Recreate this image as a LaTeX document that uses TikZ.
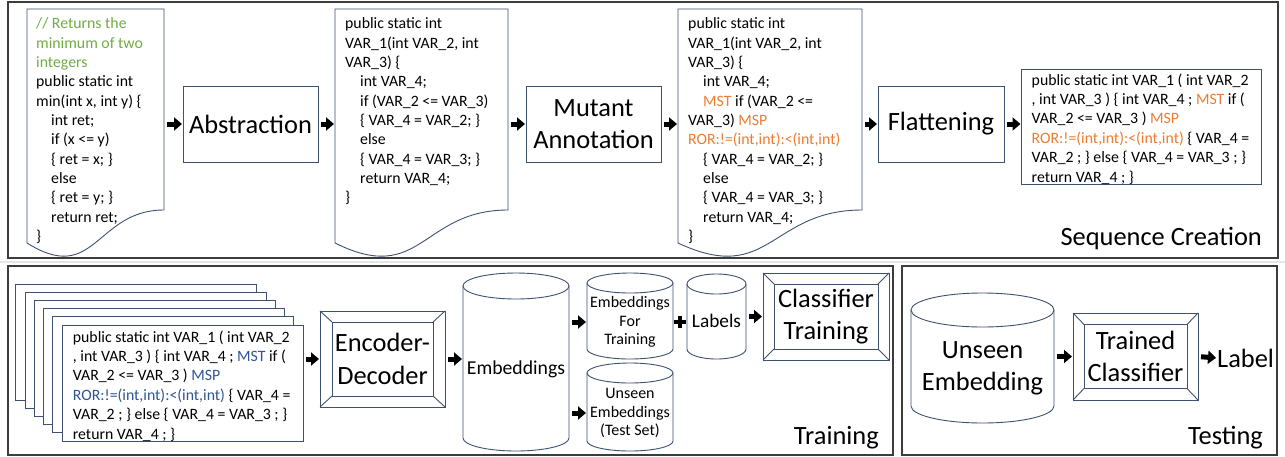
\documentclass[tikz,border=0pt]{standalone}
\usepackage{fontspec}
\setmainfont{Carlito}
\usetikzlibrary{arrows.meta,calc}
\definecolor{bd}{RGB}{62,82,112}
\definecolor{cgreen}{RGB}{112,173,71}
\definecolor{corange}{RGB}{237,125,49}
\definecolor{cblue}{RGB}{47,85,151}
\definecolor{frm}{RGB}{60,60,60}
\newcommand\ind{\hspace*{15pt}}
\newcommand\codefont{\fontsize{15.8}{19.35}\selectfont}
\newcommand\bigfont{\fontsize{26.4}{32.5}\selectfont}
\newcommand\secfont{\fontsize{26.4}{32}\selectfont}
\newcommand\cylfont{\fontsize{16}{18.7}\selectfont}
\newcommand\og[1]{\textcolor{corange}{#1}}
\newcommand\bl[1]{\textcolor{cblue}{#1}}
\newcommand\docshape[3]{%
  \node[inner sep=0pt, outer sep=0pt, minimum width={(#3-#2)*1pt}, minimum height=201pt, anchor=north west] (#1) at (#2,9) {};
  \draw[bdr] (#1.north west) -- (#1.north east) -- (#1.south east)
    .. controls (#1.south) and ($(#1.south)+(0,76)$) .. ($(#1.south west)+(0,33)$) -- cycle;
}
\newcommand\cyl[6]{%
  \pgfmathsetmacro\cx{(#2+#3)/2}\pgfmathsetmacro\rx{(#3-#2)/2}
  \node[inner sep=0pt, outer sep=0pt, minimum width={(#3-#2)*1pt}, minimum height={(#5-#4)*1pt}] (#1) at (\cx,{(#4+#5)/2}) {};
  \draw[bdr] (#2,#4+#6) -- (#2,#5-#6) arc[start angle=180,end angle=360,x radius=\rx pt,y radius=#6pt] -- (#3,#4+#6);
  \draw[bdr] (\cx,#4+#6) ellipse[x radius=\rx pt, y radius=#6pt];
}
\newcommand\fbx[8]{%
  \node[bdr, minimum width=#4pt, minimum height=#5pt, inner sep=0pt, outer sep=0pt] (#1) at (#2,#3) {};
  \node[bdr, minimum width=#6pt, minimum height=#7pt, inner sep=0pt, outer sep=0pt, align=center, font=\bigfont] (#1i) at (#2,#3) {#8};
  \foreach \a in {north west,north east,south west,south east} \draw[bdr] (#1.\a) -- (#1i.\a);
}
\begin{document}
\begin{tikzpicture}[x=1pt,y=-1pt,
  bdr/.style={draw=bd, line width=0.9pt},
  blk/.style={line width=5pt, -{Triangle[length=8pt,width=13pt]}, shorten <=3pt, shorten >=1pt},
  code/.style={anchor=north west, inner sep=0pt, align=left, font=\codefont},
  bigbox/.style={bdr, inner sep=0pt, outer sep=0pt, align=center, font=\bigfont},
  frame/.style={draw=frm, line width=1.2pt, inner sep=0pt, outer sep=0pt, anchor=north west},
  sec/.style={font=\secfont, inner sep=0pt, anchor=east},
  ctext/.style={font=\cylfont, align=center, inner sep=0pt}]
\useasboundingbox (0,0) rectangle (1285,456);
\fill[white] (0,0) rectangle (1285,456);
% section frames
\node[frame, minimum width=1270pt, minimum height=256pt] (seq) at (8,2) {};
\draw[gray!20, line width=2pt] (0,261.5) -- (1285,261.5);
\node[frame, minimum width=885pt, minimum height=189pt] (train) at (8,266) {};
\node[frame, minimum width=375pt, minimum height=189pt] (test) at (902,266) {};
\node[sec] (seql) at (1262,238.5) {Sequence Creation};
\node[sec] (trl) at (879,438) {Training};
\node[sec] (tel) at (1263,438) {Testing};
% ---- sequence creation
\docshape{d1}{27}{164}
\node[code] (t1) at (36,15) {\strut\textcolor{cgreen}{// Returns the}\\\textcolor{cgreen}{minimum of two}\\\textcolor{cgreen}{integers}\\public static int\\min(int x, int y) \{\\\ind int ret;\\\ind if (x <= y)\\\ind \{ ret = x; \}\\\ind else\\\ind \{ ret = y; \}\\\ind return ret;\\\}};
\node[bigbox, minimum width=135pt, minimum height=76pt] (abs) at (250.5,124) {Abstraction};
\docshape{d2}{335}{508}
\node[code] (t2) at (345,15) {\strut public static int\\VAR\_1(int VAR\_2, int\\VAR\_3) \{\\\ind int VAR\_4;\\\ind if (VAR\_2 <= VAR\_3)\\\ind \{ VAR\_4 = VAR\_2; \}\\\ind else\\\ind \{ VAR\_4 = VAR\_3; \}\\\ind return VAR\_4;\\\}};
\node[bigbox, minimum width=135pt, minimum height=76pt] (mut) at (593.5,124) {Mutant\\Annotation};
\docshape{d3}{678}{862}
\node[code] (t3) at (688,15) {\strut public static int\\VAR\_1(int VAR\_2, int\\VAR\_3) \{\\\ind int VAR\_4;\\\ind \og{MST} if (VAR\_2 <=\\VAR\_3) \og{MSP}\\\og{ROR:!=(int,int):<(int,int)}\\\ind \{ VAR\_4 = VAR\_2; \}\\\ind else\\\ind \{ VAR\_4 = VAR\_3; \}\\\ind return VAR\_4;\\\}};
\node[bigbox, minimum width=126pt, minimum height=76pt] (fl) at (941,124) {Flattening};
\node[bdr, anchor=north west, minimum width=240pt, minimum height=115pt, inner sep=0pt, outer sep=0pt] (flat) at (1021.5,69.5) {};
\node[code] (t4) at (1031.5,71.5) {\strut public static int VAR\_1 ( int VAR\_2\\, int VAR\_3 ) \{ int VAR\_4 ; \og{MST} if (\\VAR\_2 <= VAR\_3 ) \og{MSP}\\\og{ROR:!=(int,int):<(int,int)} \{ VAR\_4 =\\VAR\_2 ; \} else \{ VAR\_4 = VAR\_3 ; \}\\return VAR\_4 ; \}};
\draw[blk] (d1.east |- abs.west) -- (abs.west);
\draw[blk] (abs.east) -- (abs.east -| d2.west);
\draw[blk] (d2.east |- mut.west) -- (mut.west);
\draw[blk] (mut.east) -- (mut.east -| d3.west);
\draw[blk] (d3.east |- fl.west) -- (fl.west);
\draw[blk] (fl.east) -- (fl.east -| flat.west);
% ---- training
\foreach \k in {0,...,4}
  \node[bdr, fill=white, anchor=north west, minimum width=241pt, minimum height=116pt, inner sep=0pt, outer sep=0pt] (st\k) at ({15.7+9.26*\k},{284.3+8.14*\k}) {};
\node[bdr, fill=white, anchor=north west, minimum width=241pt, minimum height=116pt, inner sep=0pt, outer sep=0pt] (front) at (62,325) {};
\node[code] (t5) at (72.7,328.5) {\strut public static int VAR\_1 ( int VAR\_2\\, int VAR\_3 ) \{ int VAR\_4 ; \bl{MST} if (\\VAR\_2 <= VAR\_3 ) \bl{MSP}\\\bl{ROR:!=(int,int):<(int,int)} \{ VAR\_4 =\\VAR\_2 ; \} else \{ VAR\_4 = VAR\_3 ; \}\\return VAR\_4 ; \}};
\fbx{enc}{382.5}{359}{125}{96}{101}{74}{Encoder-\\Decoder}
\cyl{emb}{463}{569}{273}{451}{13}
\node[font=\fontsize{19.7}{23}\selectfont, inner sep=0pt] (embt) at (516,369) {Embeddings};
\cyl{eft}{587}{673}{273}{359}{10}
\node[ctext] (eftt) at (630,322) {Embeddings\\For\\Training};
\cyl{ust}{587}{673}{363}{451}{10}
\node[ctext] (ustt) at (630,413) {Unseen\\Embeddings\\(Test Set)};
\cyl{lab}{687}{746}{274}{359}{10}
\node[font=\fontsize{19.3}{23}\selectfont, inner sep=0pt] (labt) at (716.5,321) {Labels};
\fbx{ct}{826}{316.5}{126}{87}{104}{65}{Classifier\\Training}
\draw[blk] (front.east |- enc.west) -- (enc.west);
\draw[blk] (enc.east) -- (enc.east -| emb.west);
\draw[blk] (emb.east |- eftt) -- (eft.west |- eftt);
\draw[blk] (emb.east |- ustt) -- (ust.west |- ustt);
\draw[blk] (lab.east |- ct.west) -- (ct.west);
\coordinate (plus) at ($(eft.east |- eftt)!0.5!(lab.west |- eftt)$);
\draw[line width=3.5pt] ($(plus)+(-6,0)$) -- ($(plus)+(6,0)$) ($(plus)+(0,-6)$) -- ($(plus)+(0,6)$);
% ---- testing
\cyl{ue}{911}{1054}{293}{423}{17}
\node[font=\bigfont, align=center, inner sep=0pt] (uet) at (982.5,368.5) {Unseen\\Embedding};
\fbx{tc}{1135.5}{356.5}{125}{87}{103}{64}{Trained\\Classifier}
\node[font=\bigfont, inner sep=0pt, anchor=west] (lbl) at (1217,358) {Label};
\draw[blk] (ue.east |- tc.west) -- (tc.west);
\draw[blk] (tc.east) -- (lbl.west);
\end{tikzpicture}
\end{document}
